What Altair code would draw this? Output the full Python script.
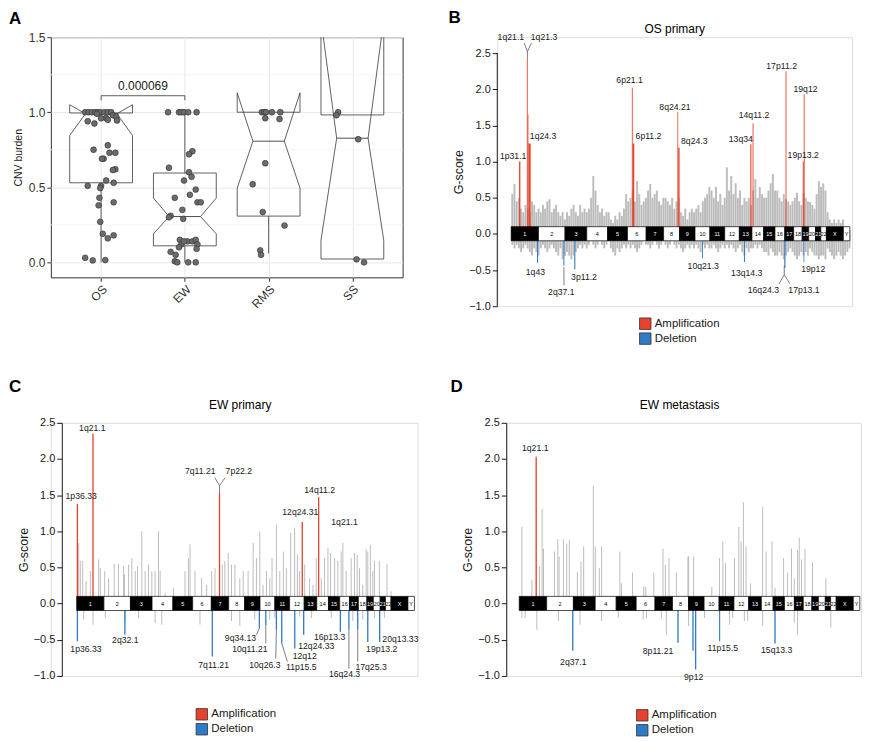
import altair as alt
import pandas as pd
from itertools import accumulate

FONT = "Liberation Sans"
INK = "#1a1a1a"
RED = "#e8412e"
BLUE = "#2f7bc6"
GRAY = "#bdbdbd"

# ---------------- Panel A : CNV burden ----------------
GROUPS = ["OS", "EW", "RMS", "SS"]
OS_DX = [-0.19, -0.15, -0.11, -0.07, -0.04, -0.01, 0.04, 0.08, 0.12, 0.14, 0.18, 0.06, 0.0, -0.05, -0.16, -0.08, 0.19, 0.08,
         -0.09, 0.08, 0.03, 0.01, 0.17, 0.10, 0.17, 0.14, 0.06, 0.15, 0.0, -0.16, -0.01, -0.02, -0.03, 0.15, -0.01, 0.02, 0.15, 0.08, -0.19, -0.1, 0.05]
OS_Y = [1.0, 1.0, 1.0, 1.0, 1.0, 1.0, 1.0, 1.0, 1.0, 0.98, 0.97, 0.96, 0.96, 0.99, 0.94, 0.925, 0.945, 0.95,
        0.75, 0.78, 0.69, 0.69, 0.73, 0.73, 0.62, 0.615, 0.545, 0.53, 0.51, 0.51, 0.495, 0.43, 0.38, 0.40, 0.27, 0.19, 0.18, 0.16, 0.03, 0.013, 0.015]
EW_DX = [-0.20, -0.07, -0.04, -0.01, 0.04, 0.14,
         0.09, 0.05, -0.19, 0.05, 0.08, -0.01, 0.13, 0.06, -0.12, 0.15, 0.19, -0.03, -0.17, -0.19, -0.02,
         -0.06, 0.03, 0.09, 0.13, 0.15, -0.04, -0.01, -0.07, 0.14, -0.17, -0.11, -0.12, -0.09, 0.04, 0.13]
EW_Y = [1.0, 1.0, 1.0, 1.0, 1.0, 1.0,
        0.74, 0.72, 0.63, 0.60, 0.57, 0.545, 0.485, 0.45, 0.43, 0.40, 0.40, 0.35, 0.31, 0.30, 0.29,
        0.15, 0.14, 0.14, 0.15, 0.12, 0.12, 0.14, 0.10, 0.09, 0.07, 0.05, 0.007, 0.0, 0.0, 0.0]
RMS_DX = [-0.08, -0.05, -0.03, 0.04, 0.14, -0.04, 0.13, -0.04, -0.19, -0.07, 0.19, -0.10, -0.09]
RMS_Y = [1.0, 1.0, 1.0, 1.0, 1.0, 0.96, 0.955, 0.66, 0.52, 0.335, 0.245, 0.08, 0.05]
SS_DX = [-0.17, -0.19, 0.07, 0.05, 0.14]
SS_Y = [1.0, 0.98, 0.82, 0.02, 0.0]

BOX_Q1 = [0.53, 0.11, 0.308, 0.022]
BOX_MED = [0.99, 0.305, 0.807, 0.827]
BOX_Q3 = [0.995, 0.595, 1.0, 0.982]
BOX_NL = [0.845, 0.19, 0.494, 0.146]
BOX_NU = [1.05, 0.428, 1.129, 1.62]
BOX_LO = [0.0, 0.0, 0.058, 0.022]
BOX_HI = [0.995, 1.0, 1.0, 0.982]
P_TEXT = "0.000069"
MINOR_Y = [0.25, 0.75, 1.25]

# ---------------- genome ----------------
CHROMS = [str(i) for i in range(1, 23)] + ["X", "Y"]
CHR_LEN = [249, 243, 198, 191, 181, 171, 159, 146, 141, 136, 135, 134, 115, 107, 103, 90, 81, 78, 59, 63, 48, 51, 155, 59]

# ---------------- Panel B : OS primary ----------------
B_GRAY_AMP = [0.55, 0.69, 0.45, 0.5, 0.35, 0.3, 0.4, 0.35, 0.3, 0.45, 0.4, 0.3, 0.35,
              0.3, 0.4, 0.35, 0.45, 0.48, 0.3, 0.35, 0.4, 0.3, 0.25, 0.3, 0.2,
              0.3, 0.25, 0.35, 0.4, 0.3, 0.25, 0.4, 0.3, 0.35, 0.3,
              0.35, 0.5, 0.8, 0.6, 0.4, 0.3, 0.35, 0.25, 0.3, 0.3,
              0.2, 0.15, 0.25, 0.2, 0.3, 0.25, 0.35, 0.55, 0.45,
              0.5, 0.6, 0.45, 0.73, 0.55, 0.4, 0.45, 0.5,
              0.6, 0.69, 0.5, 0.55, 0.6, 0.45, 0.4, 0.5,
              0.5, 0.45, 0.4, 0.5, 0.35, 0.45, 0.5,
              0.3, 0.25, 0.35, 0.2, 0.3, 0.35, 0.3,
              0.35, 0.4, 0.3, 0.45, 0.5, 0.55, 0.65,
              0.6, 0.5, 0.65, 0.45, 0.55, 0.4, 0.5,
              0.92, 0.6, 0.8, 0.55, 0.7, 0.5, 0.6,
              0.4, 0.5, 0.45, 0.5, 0.4,
              0.6, 0.76, 0.5, 0.65, 0.55, 0.5,
              0.5, 0.6, 0.7, 0.83, 0.6,
              0.6, 0.5, 0.45, 0.55,
              0.48, 0.45, 0.4, 0.45,
              0.5, 0.57, 0.45, 0.4,
              0.57, 0.5, 0.45,
              0.44, 0.4, 0.35,
              0.55, 0.73, 0.65,
              0.7, 0.6,
              0.3, 0.2, 0.15, 0.2, 0.15, 0.2, 0.15, 0.2,
              0.1, 0.1, 0.05]
B_GRAY_DEL = [-0.15, -0.2, -0.15, -0.2, -0.25, -0.2, -0.15, -0.2, -0.25, -0.3, -0.2, -0.25, -0.3,
              -0.2, -0.15, -0.2, -0.25, -0.2, -0.15, -0.2, -0.25, -0.3, -0.2, -0.35, -0.3,
              -0.25, -0.3, -0.35, -0.3, -0.25, -0.2, -0.15, -0.2, -0.15, -0.2,
              -0.15, -0.1, -0.15, -0.2, -0.15, -0.1, -0.15, -0.2, -0.15, -0.1,
              -0.2, -0.25, -0.3, -0.2, -0.25, -0.2, -0.15, -0.2, -0.15,
              -0.2, -0.15, -0.2, -0.25, -0.2, -0.15, -0.1, -0.15,
              -0.15, -0.2, -0.15, -0.1, -0.15, -0.2, -0.15, -0.1,
              -0.15, -0.2, -0.15, -0.1, -0.15, -0.2, -0.15,
              -0.2, -0.25, -0.2, -0.15, -0.2, -0.15, -0.2,
              -0.15, -0.2, -0.25, -0.15, -0.2, -0.15, -0.2,
              -0.2, -0.15, -0.2, -0.25, -0.2, -0.15, -0.2,
              -0.15, -0.2, -0.15, -0.2, -0.25, -0.2, -0.15,
              -0.25, -0.3, -0.2, -0.25, -0.2,
              -0.2, -0.15, -0.2, -0.15, -0.2, -0.25,
              -0.25, -0.3, -0.2, -0.25, -0.3,
              -0.3, -0.25, -0.3, -0.35,
              -0.3, -0.25, -0.2, -0.25,
              -0.3, -0.35, -0.3, -0.25,
              -0.3, -0.25, -0.3,
              -0.2, -0.25, -0.3,
              -0.3, -0.35, -0.3,
              -0.3, -0.35,
              -0.2, -0.25, -0.3, -0.35, -0.3, -0.25, -0.3, -0.35,
              -0.3, -0.25, -0.2]
B_GRAY_POS = [10 + 20 * i for i in range(len(B_GRAY_AMP))]

B_PK_CHR = ["1", "1", "1", "1", "6", "6", "8", "8", "13", "14", "17", "19", "19",
            "1", "2", "3", "10", "13", "16", "17", "19"]
B_PK_START = [72, 143, 151, 157, 40, 48, 126, 133, 100, 6, 7, 5, 14, 236, 228, 84, 64, 42, 84, 0, 12]
B_PK_END = [84, 151, 157, 178, 48, 62, 133, 146, 110, 14, 15, 14, 22, 246, 237, 94, 72, 51, 90, 6, 19]
B_PK_G = [1.0, 2.42, 1.65, 1.25, 2.02, 1.25, 1.69, 1.19, 1.24, 1.53, 2.25, 1.0, 1.93,
          -0.40, -0.44, -0.49, -0.34, -0.39, -0.46, -0.47, -0.39]

B_LAB_T = ["1q21.1", "1q21.3", "1p31.1", "1q24.3", "6p21.1", "6p11.2", "8q24.21", "8q24.3", "13q34", "14q11.2",
           "17p11.2", "19q12", "19p13.2", "1q43", "2q37.1", "3p11.2", "10q21.3", "13q14.3", "16q24.3", "17p13.1", "19p12"]
B_LAB_X = [-3, 300, 18, 291, 1081, 1254, 1496, 1672, 2097, 2218, 2470, 2688, 2667, 221, 458, 665, 1754, 2151, 2303, 2674, 2758]
B_LAB_Y = [2.72, 2.72, 1.08, 1.36, 2.13, 1.36, 1.75, 1.29, 1.31, 1.64, 2.32, 2.01, 1.09,
           -0.52, -0.80, -0.59, -0.44, -0.54, -0.77, -0.77, -0.49]
B_CON_X = [148, 148, 148, 2494, 2494, 2494, 482]
B_CON_Y = [2.42, 2.52, 2.52, -0.44, -0.565, -0.565, -0.46]
B_CON_X2 = [148, 118, 185, 2494, 2446, 2546, 482]
B_CON_Y2 = [2.52, 2.64, 2.64, -0.565, -0.69, -0.69, -0.71]

# ---------------- Panel C : EW primary ----------------
C_GRAY_POS = [18, 33, 55, 85, 125, 201, 216, 256, 292, 344, 383, 429, 438, 475, 505, 536, 557, 596, 627, 657,
              688, 718, 749, 764, 810, 886, 992, 1023, 1038, 1083, 1144, 1190, 1236, 1266, 1333, 1357, 1388, 1418,
              1449, 1494, 1525, 1570, 1616, 1646, 1677, 1707, 1738, 1768, 1789, 1829, 1860, 1893, 1920, 1960, 1996,
              2021, 2042, 2088, 2133, 2164, 2194, 2240, 2270, 2301, 2325, 2362, 2392, 2422, 2438, 2468, 2514, 2544,
              2569, 2590, 2620, 2651, 2666, 2690, 2712, 2727, 2772, 2842, 2879]
C_GRAY_AMP = [0.84, 0.59, 0.59, 0.31, 0.45, 0.61, 0.49, 0.45, 0.35, 0.55, 0.55, 0.52, 0.40, 0.54, 0.63, 0.45, 0.52,
              1.0, 0.45, 0.54, 0.45, 0.45, 1.0, 0.45, 0.15, 0.22, 0.45, 0.63, 0.82, 0.45, 0.35, 0.26, 0.45, 0.49,
              0.54, 0.59, 0.70, 0.54, 0.54, 0.35, 0.45, 0.45, 0.84, 0.63, 1.0, 0.26, 0.45, 0.35, 0.63, 1.09, 0.45,
              0.72, 0.49, 0.98, 1.05, 0.68, 0.45, 0.54, 0.35, 0.26, 0.63, 0.35, 0.63, 0.77, 0.70, 0.63, 0.59, 0.72,
              0.84, 0.45, 0.63, 0.70, 0.68, 0.49, 0.26, 0.75, 0.72, 0.81, 0.45, 0.59, 0.59, 0.55, 0.17]
C_DEL_POS = [64, 149, 262, 444, 566, 718, 779, 1129, 1418, 1494, 1631, 1768, 1814, 2042, 2149, 2331, 2529, 2620, 2727, 2818]
C_DEL_VAL = [-0.22, -0.29, -0.2, -0.24, -0.2, -0.27, -0.29, -0.29, -0.24, -0.31, -0.22, -0.22, -0.2, -0.18, -0.2,
             -0.2, -0.24, -0.22, -0.2, -0.2]
C_PK_CHR = ["1", "1", "7", "12", "14", "1", "2", "7", "9", "10", "11", "11", "12", "12", "16", "16", "17", "19", "20"]
C_PK_START = [0, 143, 69, 110, 11, 0, 186, 3, 129, 47, 8, 57, 41, 123, 0, 78, 69, 2, 52]
C_PK_END = [12, 155, 81, 122, 23, 12, 198, 15, 141, 59, 20, 69, 53, 135, 12, 90, 81, 14, 64]
C_PK_G = [1.38, 2.35, 1.53, 1.13, 1.47, -0.52, -0.43, -0.73, -0.34, -0.30, -0.36, -0.55, -0.62, -0.43, -0.39,
          -0.36, -0.35, -0.53, -0.53]
C_LAB_T = ["1p36.33", "1q21.1", "7q11.21", "7p22.2", "14q11.2", "12q24.31", "1q21.1", "1p36.33", "2q32.1", "7q11.21",
           "9q34.13", "10q11.21", "10q26.3", "11p15.5", "12q12", "12q24.33", "16p13.3", "16q24.3", "17q25.3", "19p13.2", "20q13.33"]
C_LAB_X = [41, 143, 1132, 1485, 2225, 2048, 2453, 85, 445, 1254, 1500, 1586, 1723, 2057, 2088, 2194, 2316, 2453, 2696, 2794, 2965]
C_LAB_Y = [1.49, 2.43, 1.83, 1.83, 1.57, 1.26, 1.13, -0.63, -0.51, -0.85, -0.47, -0.63, -0.85, -0.87, -0.73, -0.58,
           -0.46, -0.98, -0.88, -0.63, -0.49]
C_CON_X = [1308, 1308, 1308, 1646, 1732, 1829, 1878, 2493, 2574]
C_CON_Y = [1.53, 1.63, 1.63, -0.43, -0.30, -0.36, -0.55, -0.36, -0.35]
C_CON_X2 = [1308, 1266, 1358, 1673, 1732, 1823, 1929, 2493, 2574]
C_CON_Y2 = [1.63, 1.74, 1.74, -0.34, -0.55, -0.76, -0.80, -0.90, -0.80]

# ---------------- Panel D : EW metastasis ----------------
D_GRAY_POS = [24, 115, 184, 208, 220, 320, 350, 362, 401, 431, 455, 528, 561, 585, 673, 691, 727, 748, 914, 1029,
              1149, 1222, 1306, 1327, 1360, 1427, 1538, 1584, 1749, 1819, 1849, 1873, 1955, 1994, 2015, 2036, 2100,
              2211, 2242, 2296, 2323, 2401, 2437, 2473, 2498, 2528, 2543, 2564, 2595, 2663, 2785, 929, 1131, 1532, 2060]
D_GRAY_AMP = [1.06, 0.33, 0.51, 1.31, 0.76, 0.72, 0.89, 0.65, 0.89, 0.83, 0.88, 0.44, 0.58, 0.79, 1.63, 0.79, 0.49,
              0.79, 0.72, 0.43, 0.23, 0.43, 0.76, 0.54, 0.63, 0.43, 0.66, 0.65, 0.23, 0.63, 0.86, 0.56, 0.63, 1.06,
              0.86, 1.40, 0.28, 1.34, 0.72, 0.86, 0.22, 0.63, 0.43, 0.76, 0.35, 0.74, 0.91, 0.61, 0.76, 0.57, 0.35,
              0.28, 0.24, 0.65, 0.79]
D_DEL_POS = [24, 54, 160, 356, 552, 748, 899, 1125, 1155, 1291, 1336, 1538, 1683, 1910, 1939, 2045, 2075, 2211, 2498, 2528, 2830]
D_DEL_VAL = [-0.2, -0.2, -0.36, -0.24, -0.29, -0.24, -0.2, -0.22, -0.2, -0.2, -0.43, -0.31, -0.2, -0.29, -0.2,
             -0.24, -0.24, -0.31, -0.26, -0.43, -0.33]
D_PK_CHR = ["1", "2", "8", "9", "9", "11", "15"]
D_PK_START = [148, 231, 44, 34, 58, 0, 11]
D_PK_END = [160, 243, 56, 46, 70, 10, 23]
D_PK_G = [2.03, -0.65, -0.54, -0.65, -0.91, -0.52, -0.55]
D_LAB_T = ["1q21.1", "2q37.1", "8p11.21", "9p12", "11p15.5", "15q13.3"]
D_LAB_X = [145, 491, 1261, 1584, 1849, 2338]
D_LAB_Y = [2.15, -0.81, -0.65, -1.01, -0.62, -0.64]

# =====================================================
CHR_START = [0] + list(accumulate(CHR_LEN))[:-1]
OFFSET = dict(zip(CHROMS, CHR_START))
chrom_df = pd.DataFrame({"chr": CHROMS, "start": CHR_START,
                         "end": [s + l for s, l in zip(CHR_START, CHR_LEN)]})
chrom_df["mid"] = (chrom_df["start"] + chrom_df["end"]) / 2
chrom_df["fill"] = ["black" if i % 2 == 0 else "white" for i in range(len(CHROMS))]
chrom_df["tc"] = ["white" if i % 2 == 0 else "black" for i in range(len(CHROMS))]
chrom_df["lo"] = -0.095
chrom_df["hi"] = 0.1
chrom_df["ly"] = 0.0


def text_layer(txt, x, y, size, weight="normal", align="left", baseline="alphabetic"):
    return alt.Chart(pd.DataFrame({"t": [txt]})).mark_text(
        fontSize=size, fontWeight=weight, align=align, baseline=baseline, color="black", font=FONT
    ).encode(text="t:N", x=alt.value(x), y=alt.value(y))


# ---------------- build panel A ----------------
def panel_a():
    xs = alt.Scale(domain=[0.4, 4.6], nice=False, zero=False)
    ys = alt.Scale(domain=[-0.1, 1.5], nice=False, zero=False)
    label_expr = "[''," + ",".join("'%s'" % g for g in GROUPS) + "][datum.value]"
    xaxis = alt.Axis(values=[1, 2, 3, 4], labelExpr=label_expr, labelAngle=-45, labelFontSize=12,
                     labelColor="#333", tickColor="#333", tickSize=4, domain=False, grid=True,
                     gridColor="#e8e8e8", title=None, labelPadding=2)
    yaxis = alt.Axis(values=[0, 0.5, 1, 1.5], format=".1f", labelFontSize=12, labelColor="#333",
                     tickColor="#333", tickSize=4, domain=False, grid=True, gridColor="#e8e8e8",
                     title="CNV burden", titleFontSize=10.5, titleFontWeight="normal", titleColor=INK,
                     titlePadding=5, labelPadding=2)

    def X(f):
        return alt.X(f, type="quantitative", scale=xs, axis=xaxis)

    def Y(f):
        return alt.Y(f, type="quantitative", scale=ys, axis=yaxis)

    pts = []
    for gi, (dxs, yv) in enumerate([(OS_DX, OS_Y), (EW_DX, EW_Y), (RMS_DX, RMS_Y), (SS_DX, SS_Y)]):
        for d, v in zip(dxs, yv):
            pts.append({"x": gi + 1 + d, "y": v})
    pts = pd.DataFrame(pts)

    hw, nw = 0.375, 0.1875
    poly, med, whisk = [], [], []
    for gi in range(4):
        c = gi + 1
        q1, md, q3 = BOX_Q1[gi], BOX_MED[gi], BOX_Q3[gi]
        nl, nu = BOX_NL[gi], BOX_NU[gi]
        verts = [(c - hw, q3), (c - hw, nu), (c - hw + nw, md), (c - hw, nl), (c - hw, q1),
                 (c + hw, q1), (c + hw, nl), (c + hw - nw, md), (c + hw, nu), (c + hw, q3), (c - hw, q3)]
        for k, (vx, vy) in enumerate(verts):
            poly.append({"g": GROUPS[gi], "o": k, "x": vx, "y": vy})
        med.append({"x": c - hw + nw, "x2": c + hw - nw, "y": md})
        if BOX_HI[gi] > q3:
            whisk.append({"x": c, "y": q3, "y2": BOX_HI[gi]})
        if BOX_LO[gi] < q1:
            whisk.append({"x": c, "y": q1, "y2": BOX_LO[gi]})
    poly, med, whisk = pd.DataFrame(poly), pd.DataFrame(med), pd.DataFrame(whisk)
    minor = pd.DataFrame({"y": MINOR_Y})
    br = pd.DataFrame({"x": [1, 1, 2], "x2": [1, 2, 2], "y": [1.08, 1.11, 1.11], "y2": [1.11, 1.11, 1.08]})
    ptxt = pd.DataFrame({"x": [1.5], "y": [1.11], "t": [P_TEXT]})

    layers = [
        alt.Chart(minor).mark_rule(color="#f2f2f2", strokeWidth=0.8).encode(y=Y("y")),
        alt.Chart(poly).mark_line(color="#3a3a3a", strokeWidth=0.8, clip=True).encode(
            x=X("x"), y=Y("y"), detail="g:N", order="o:Q"),
        alt.Chart(med).mark_rule(color="#3a3a3a", strokeWidth=0.9).encode(x=X("x"), x2="x2", y=Y("y")),
        alt.Chart(whisk).mark_rule(color="#3a3a3a", strokeWidth=0.8).encode(x=X("x"), y=Y("y"), y2="y2"),
        alt.Chart(pts).mark_circle(size=34, color="#6b6b6b", stroke="#2e2e2e", strokeWidth=0.6,
                                   opacity=1).encode(x=X("x"), y=Y("y")),
        alt.Chart(br).mark_rule(color="#333", strokeWidth=0.8).encode(x=X("x"), x2="x2", y=Y("y"), y2="y2"),
        alt.Chart(ptxt).mark_text(fontSize=12, baseline="bottom", dy=-3, color=INK, font=FONT).encode(
            x=X("x"), y=Y("y"), text="t:N"),
        text_layer("A", -42, -13, 17, weight="bold"),
    ]
    return alt.layer(*layers).properties(width=353, height=241,
                                         view=alt.ViewBackground(stroke="#333", strokeWidth=1))


# ---------------- G-score panels ----------------
def gpanel(letter, title, gray_pos, gray_val, pk_chr, pk_start, pk_end, pk_g, lab_t, lab_x, lab_y,
           con, xdom, ydom, width, height, letter_xy, title_xy, legend_xy, gray_w,
           axis_offset=0, axis_rule=False):
    xs = alt.Scale(domain=xdom, nice=False, zero=False)
    ys = alt.Scale(domain=ydom, nice=False, zero=False)
    yaxis = alt.Axis(values=[-1, -0.5, 0, 0.5, 1, 1.5, 2, 2.5], format=".1f", labelFontSize=11,
                     labelColor=INK, tickColor=INK, tickSize=5, domain=not axis_rule, domainColor=INK,
                     grid=False, title="G-score", titleFontSize=12.5, titleFontWeight="normal",
                     titleColor=INK, titlePadding=3, labelPadding=2, offset=axis_offset)

    def X(f):
        return alt.X(f, type="quantitative", scale=xs, axis=None)

    def Y(f):
        return alt.Y(f, type="quantitative", scale=ys, axis=yaxis)

    gray = pd.DataFrame({"x": gray_pos, "y": gray_val})
    gray["z"] = 0.0
    pk = pd.DataFrame({"x0": [OFFSET[c] + s for c, s in zip(pk_chr, pk_start)],
                       "x1": [OFFSET[c] + e for c, e in zip(pk_chr, pk_end)],
                       "y": pk_g})
    pk["z"] = 0.0
    pk["type"] = ["Amplification" if g > 0 else "Deletion" for g in pk_g]
    labs = pd.DataFrame({"x": lab_x, "y": lab_y, "t": lab_t})

    color = alt.Color("type:N", scale=alt.Scale(domain=["Amplification", "Deletion"], range=[RED, BLUE]),
                      legend=alt.Legend(title=None, orient="none", legendX=legend_xy[0], legendY=legend_xy[1],
                                        direction="vertical", symbolType="square", symbolSize=132,
                                        symbolStrokeColor="#333", symbolStrokeWidth=0.8, symbolOpacity=1,
                                        labelFont=FONT, labelFontSize=11.5, labelColor=INK, labelOffset=3,
                                        rowPadding=0, padding=0))
    layers = [
        alt.Chart(gray).mark_rule(color=GRAY, strokeWidth=gray_w).encode(x=X("x"), y=Y("y"), y2="z"),
        alt.Chart(pk).mark_rect().encode(x=X("x0"), x2="x1", y=Y("y"), y2="z", color=color),
        alt.Chart(chrom_df).mark_rect(stroke="black", strokeWidth=0.7).encode(
            x=X("start"), x2="end", y=Y("lo"), y2="hi", fill=alt.Fill("fill:N", scale=None)),
        alt.Chart(chrom_df).mark_text(fontSize=5.5, font=FONT).encode(
            x=X("mid"), y=Y("ly"), text="chr:N", fill=alt.Fill("tc:N", scale=None)),
    ]
    if con is not None:
        cdf = pd.DataFrame({"x": con[0], "y": con[1], "x2": con[2], "y2": con[3]})
        layers.append(alt.Chart(cdf).mark_rule(color="#444", strokeWidth=0.7).encode(
            x=X("x"), y=Y("y"), x2="x2", y2="y2"))
    layers.append(alt.Chart(labs).mark_text(fontSize=8.7, color=INK, font=FONT, baseline="middle").encode(
        x=X("x"), y=Y("y"), text="t:N"))
    if axis_rule:
        rdf = pd.DataFrame({"x": [xdom[0]], "y": [-1.0], "y2": [2.5]})
        layers.append(alt.Chart(rdf).mark_rule(color=INK, strokeWidth=1).encode(x=X("x"), y=Y("y"), y2="y2"))
    layers.append(text_layer(letter, letter_xy[0], letter_xy[1], 17, weight="bold"))
    layers.append(text_layer(title, title_xy[0], title_xy[1], 12, align="center", baseline="middle"))
    return alt.layer(*layers).properties(width=width, height=height)


A = panel_a()
B = gpanel("B", "OS primary", B_GRAY_POS + B_GRAY_POS, B_GRAY_AMP + B_GRAY_DEL,
           B_PK_CHR, B_PK_START, B_PK_END, B_PK_G, B_LAB_T, B_LAB_X, B_LAB_Y,
           (B_CON_X, B_CON_Y, B_CON_X2, B_CON_Y2),
           [-127, 3113], [-1.0, 2.72], 356, 270, (-49, -14), (178, -8), (142, 281), 2.0, axis_rule=True)
C = gpanel("C", "EW primary", C_GRAY_POS + C_DEL_POS, C_GRAY_AMP + C_DEL_VAL,
           C_PK_CHR, C_PK_START, C_PK_END, C_PK_G, C_LAB_T, C_LAB_X, C_LAB_Y,
           (C_CON_X, C_CON_Y, C_CON_X2, C_CON_Y2),
           [-237, 3122], [-1.0, 2.5], 368, 254, (-42, -31), (190, -18), (145, 286), 1.0, axis_offset=-11)
D = gpanel("D", "EW metastasis", D_GRAY_POS + D_DEL_POS, D_GRAY_AMP + D_DEL_VAL,
           D_PK_CHR, D_PK_START, D_PK_END, D_PK_G, D_LAB_T, D_LAB_X, D_LAB_Y, None,
           [-118, 3104], [-1.0, 2.5], 356, 254, (-56, -31), (174, -18), (130, 287), 1.0)

row1 = alt.hconcat(A, B, spacing=44).resolve_scale(color="independent")
row2 = alt.hconcat(C, D, spacing=30).resolve_scale(color="independent")
chart = alt.vconcat(row1, row2, spacing=30).resolve_scale(color="independent").properties(
    padding={"left": 0, "top": -1, "right": 0, "bottom": 0}
).configure_view(stroke=None).configure(font=FONT)

chart.save("out.html", embed_options={"renderer": "svg", "actions": False})
